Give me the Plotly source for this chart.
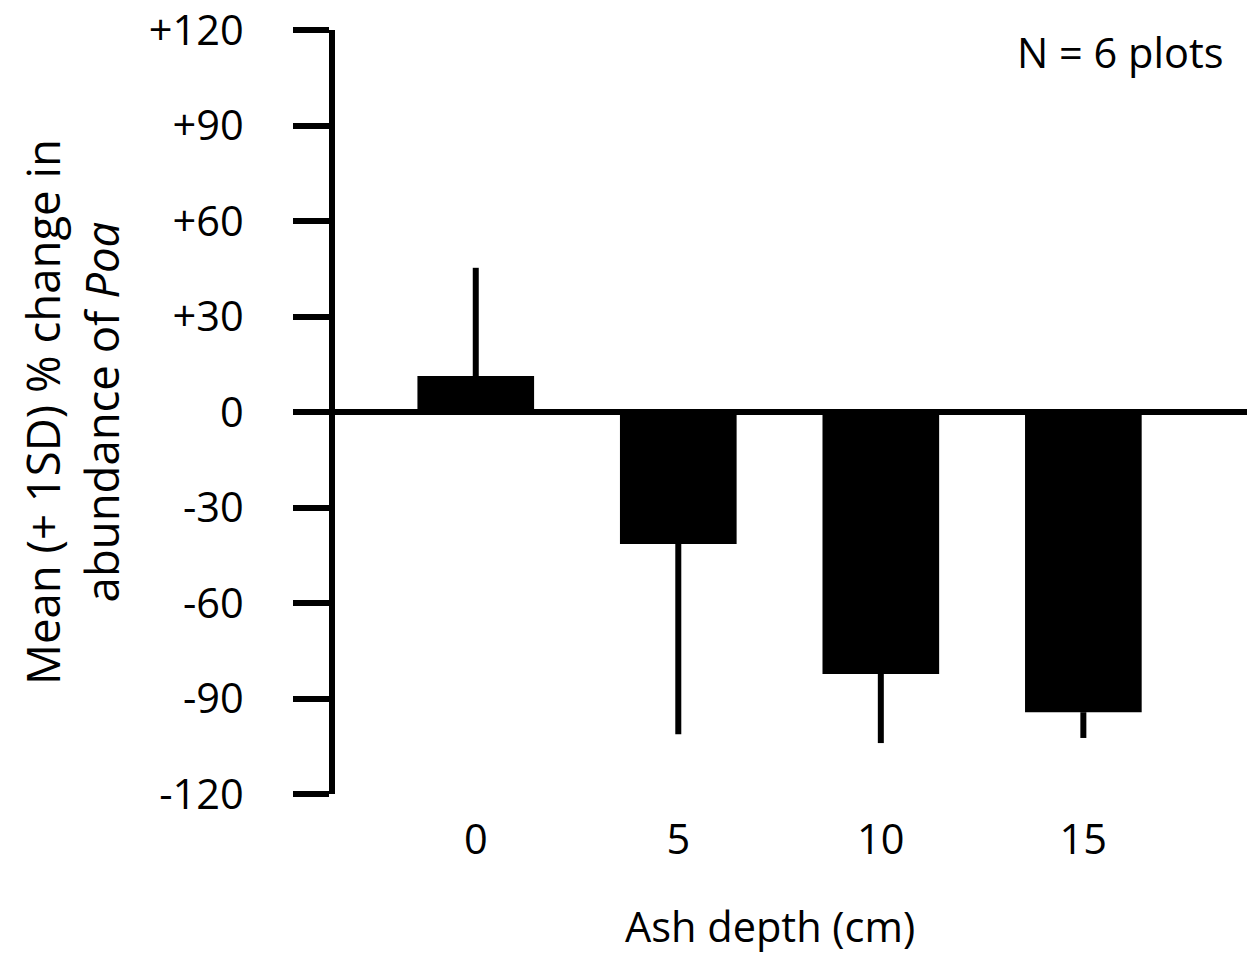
import plotly.graph_objects as go

# Data
ash_depth = ["0", "5", "10", "15"]
mean_change = [11.3, -41.5, -82.3, -94.3]
sd_change = [34.0, 59.7, 21.7, 8.1]

y_tick_vals = [120, 90, 60, 30, 0, -30, -60, -90, -120]
y_tick_text = ["+120", "+90", "+60", "+30", "0", "-30", "-60", "-90", "-120"]

# one-sided error bars pointing away from zero
err_plus = [s if m >= 0 else 0 for m, s in zip(mean_change, sd_change)]
err_minus = [s if m < 0 else 0 for m, s in zip(mean_change, sd_change)]

FONT = "Open Sans"
FS = 41.5
LW = 6

fig = go.Figure()
fig.add_trace(go.Bar(
    x=ash_depth,
    y=mean_change,
    width=0.576,
    marker=dict(color="black", line=dict(width=0)),
    error_y=dict(type="data", symmetric=False, array=err_plus, arrayminus=err_minus,
                 thickness=LW, width=0, color="black"),
    showlegend=False,
    hoverinfo="skip",
))

fig.update_layout(
    width=1251, height=953,
    margin=dict(l=335, r=4, t=30, b=159),
    paper_bgcolor="white", plot_bgcolor="white",
    font=dict(family=FONT, size=FS, color="black"),
    xaxis=dict(
        type="category",
        range=[-0.695, 3.808],
        automargin=False,
        showline=False, showgrid=False, zeroline=False,
        ticks="outside", ticklen=9, tickcolor="rgba(0,0,0,0)",
        tickfont=dict(family=FONT, size=FS, color="black"),
    ),
    yaxis=dict(
        range=[-120, 120],
        automargin=False,
        tickvals=y_tick_vals, ticktext=y_tick_text,
        ticklabeloverflow="allow",
        showline=True, linewidth=LW, linecolor="black",
        ticks="outside", ticklen=36, tickwidth=LW, tickcolor="black",
        ticklabelstandoff=41,
        showgrid=False,
        zeroline=True, zerolinewidth=LW, zerolinecolor="black",
        tickfont=dict(family=FONT, size=FS, color="black"),
    ),
    annotations=[
        dict(text="Ash depth (cm)", xref="paper", yref="paper",
             x=0.4765, y=-0.1728, xanchor="center", yanchor="middle",
             showarrow=False, font=dict(family=FONT, size=FS, color="black")),
        dict(text="N = 6 plots", xref="paper", yref="paper",
             x=0.976, y=0.971, xanchor="right", yanchor="middle",
             showarrow=False, font=dict(family=FONT, size=FS, color="black")),
        dict(text="Mean (+ 1SD) % change in<br>abundance of <i>Poa</i>",
             xref="paper", yref="paper", x=-0.2896, y=0.5,
             xanchor="center", yanchor="middle", textangle=-90,
             showarrow=False, font=dict(family=FONT, size=45.5, color="black")),
    ],
)

fig.write_html("out.html", config={"displayModeBar": False},
               post_script="document.body.style.margin='0';")
